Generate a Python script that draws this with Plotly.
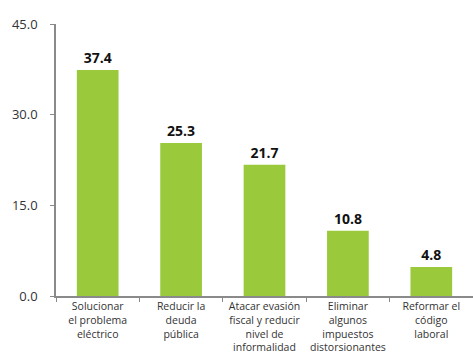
import plotly.graph_objects as go

categories = ["Solucionar<br>el problema<br>eléctrico",
              "Reducir la<br>deuda<br>pública",
              "Atacar evasión<br>fiscal y reducir<br>nivel de<br>informalidad",
              "Eliminar<br>algunos<br>impuestos<br>distorsionantes",
              "Reformar el<br>código<br>laboral"]
values = [37.4, 25.3, 21.7, 10.8, 4.8]
y_ticks = [0, 15, 30, 45]
y_tick_labels = ["0.0", "15.0", "30.0", "45.0"]

fig = go.Figure(go.Bar(
    x=categories, y=values, width=0.5,
    marker=dict(color="#9aca3c", line=dict(width=0)),
    text=[f"{v:.1f}" for v in values], textposition="outside",
    textfont=dict(family="Open Sans", size=14, color="#111"),
    texttemplate="<b>%{text}</b>", cliponaxis=False,
))

fig.update_layout(
    width=473, height=356,
    margin=dict(l=56, r=0, t=24, b=60),
    plot_bgcolor="white", paper_bgcolor="white",
    showlegend=False,
    font=dict(family="Open Sans", size=11, color="#333"),
    bargap=0.5,
)
fig.update_yaxes(range=[0, 45], tickvals=y_ticks, ticktext=y_tick_labels,
                 showgrid=False, zeroline=False, showline=True, linecolor="#8a8a8a",
                 linewidth=1.5, ticks="outside", ticklen=4, tickcolor="#8a8a8a",
                 tickfont=dict(size=13, color="#333"), ticklabelstandoff=10,
                 automargin=False)
fig.update_xaxes(showgrid=False, showline=True, linecolor="#8a8a8a", linewidth=1.5,
                 ticks="outside", ticklen=4, tickcolor="#8a8a8a", tickson="boundaries",
                 tickfont=dict(size=10.5, color="#333"), tickangle=0, automargin=False)

fig.write_html("out.html")
